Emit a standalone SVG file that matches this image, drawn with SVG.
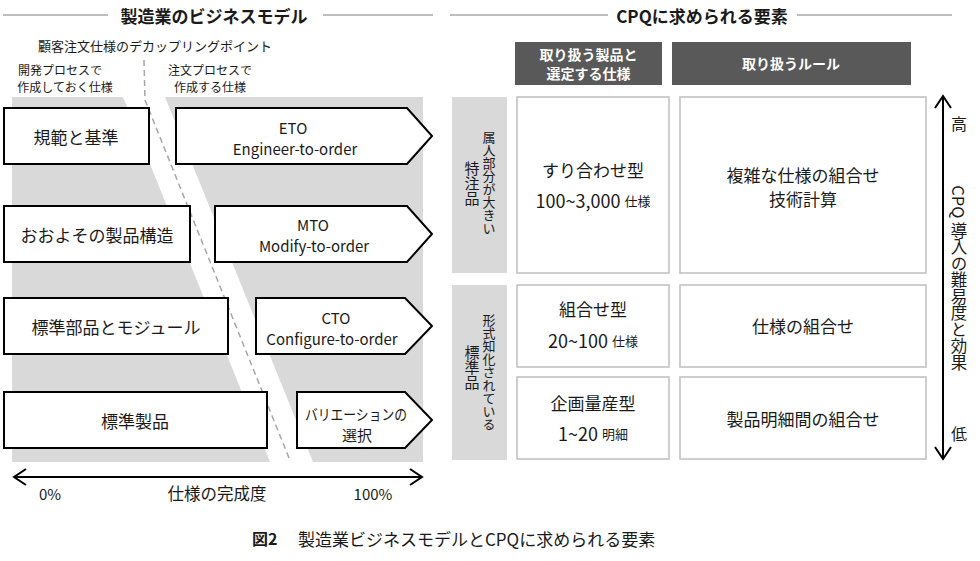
<svg xmlns="http://www.w3.org/2000/svg" width="980" height="561" viewBox="0 0 980 561">
<style>
text{font-family:"Noto Sans CJK JP","Noto Sans",sans-serif;fill:#1a1a1a;dominant-baseline:central;text-anchor:middle}
.h{font-size:17px;font-weight:bold}
.hl{stroke:#7f7f7f;stroke-width:1.2}
.box{fill:#fff;stroke:#000;stroke-width:2}
.band{fill:#d9d9d9}
.cell{fill:#fff;stroke:#bfbfbf;stroke-width:1.5}
.dark{fill:#595959}
.wt{fill:#fff;font-weight:bold;font-size:14px}
.lab{fill:#d9d9d9}
.t17{font-size:17px}
.t15{font-size:15px}
.t13{font-size:13px}
.t12{font-size:12px}
.v{writing-mode:vertical-rl}
.ax{stroke:#000;stroke-width:2;fill:none}
</style>

<!-- headers -->
<g id="header-left">
<line class="hl" x1="3" y1="15" x2="108" y2="15"/>
<line class="hl" x1="323" y1="15" x2="433" y2="15"/>
<text class="h" x="214" y="15">製造業のビジネスモデル</text>
</g>
<g id="header-right">
<line class="hl" x1="450" y1="15" x2="608" y2="15"/>
<line class="hl" x1="797" y1="15" x2="952" y2="15"/>
<text class="h" x="702" y="15">CPQに求められる要素</text>
</g>

<!-- left panel -->
<g id="band">
<polygon class="band" points="12,97 123,97 270,462 12,462"/>
<polygon class="band" points="165,97 423,97 423,462 313,462"/>
</g>

<g id="labels-top">
<text x="155" y="45" font-size="13">顧客注文仕様のデカップリングポイント</text>
<text class="t12" x="60" y="69">開発プロセスで</text>
<text class="t12" x="65" y="86">作成しておく仕様</text>
<text class="t12" x="210" y="69">注文プロセスで</text>
<text class="t12" x="210" y="86">作成する仕様</text>
</g>

<g id="connectors">
<path d="M144,60 L145,100 L289,458" fill="none" stroke="#a6a6a6" stroke-width="1.5" stroke-dasharray="6,4"/>
<line class="ax" x1="14" y1="477" x2="422" y2="477"/>
<polyline class="ax" points="26,469 14,477 26,485"/>
<polyline class="ax" points="410,469 422,477 410,485"/>
<line class="ax" x1="943" y1="96" x2="943" y2="459"/>
<polyline class="ax" points="935,108 943,96 951,108"/>
<polyline class="ax" points="935,447 943,459 951,447"/>
</g>

<g id="node-kihan">
<rect class="box" x="4" y="108" width="145" height="56"/>
<text class="t17" x="76" y="136">規範と基準</text>
</g>
<g id="node-eto">
<polygon class="box" points="176,108 407,108 432,136 407,164 176,164"/>
<text class="t15" x="293" y="127">ETO</text>
<text class="t15" x="295" y="148">Engineer-to-order</text>
</g>
<g id="node-kouzou">
<rect class="box" x="4" y="206" width="186" height="56"/>
<text class="t17" x="97" y="234">おおよその製品構造</text>
</g>
<g id="node-mto">
<polygon class="box" points="215,206 407,206 432,234 407,262 215,262"/>
<text class="t15" x="313" y="224">MTO</text>
<text class="t15" x="314" y="245">Modify-to-order</text>
</g>
<g id="node-module">
<rect class="box" x="4" y="298" width="224" height="56"/>
<text class="t17" x="116" y="326">標準部品とモジュール</text>
</g>
<g id="node-cto">
<polygon class="box" points="256,298 405,298 432,326 405,354 256,354"/>
<text class="t15" x="336" y="317">CTO</text>
<text class="t15" x="332" y="338">Configure-to-order</text>
</g>
<g id="node-hyoujun">
<rect class="box" x="4" y="392" width="263" height="56"/>
<text class="t17" x="135" y="420">標準製品</text>
</g>
<g id="node-variation">
<polygon class="box" points="297,392 405,392 432,420 405,448 297,448"/>
<text class="t15" x="356" y="413" textLength="102" lengthAdjust="spacingAndGlyphs">バリエーションの</text>
<text class="t15" x="357" y="434">選択</text>
</g>

<g id="axis-x-labels">
<text class="t15" x="50" y="493">0%</text>
<text font-size="16.5" x="217" y="493">仕様の完成度</text>
<text class="t15" x="373" y="493">100%</text>
</g>

<!-- right panel -->
<g id="col-head-1">
<rect class="dark" x="515" y="42" width="147" height="43"/>
<text class="wt" x="588.5" y="54">取り扱う製品と</text>
<text class="wt" x="588.5" y="73">選定する仕様</text>
</g>
<g id="col-head-2">
<rect class="dark" x="672" y="42" width="239" height="43"/>
<text class="wt" x="791" y="63">取り扱うルール</text>
</g>

<g id="label-tokuchu">
<rect class="lab" x="452" y="97" width="55" height="176"/>
<text class="v" font-size="15" x="472" y="183">特注品</text>
<text class="v t13" x="489" y="183">属人部分が大きい</text>
</g>
<g id="label-hyoujun">
<rect class="lab" x="452" y="285" width="55" height="175"/>
<text class="v" font-size="15" x="472" y="367">標準品</text>
<text class="v t13" x="489" y="372">形式知化されている</text>
</g>

<g id="cell-suriawase">
<rect class="cell" x="517" y="97" width="152" height="176"/>
<text class="t17" x="593" y="169">すり合わせ型</text>
<text x="593" y="200"><tspan font-size="18">100~3,000 </tspan><tspan font-size="13">仕様</tspan></text>
</g>
<g id="cell-kumiawase">
<rect class="cell" x="517" y="285" width="152" height="82"/>
<text class="t17" x="593" y="308">組合せ型</text>
<text x="593" y="340"><tspan font-size="18">20~100 </tspan><tspan font-size="13">仕様</tspan></text>
</g>
<g id="cell-kikaku">
<rect class="cell" x="517" y="377" width="152" height="82"/>
<text class="t17" x="593" y="402">企画量産型</text>
<text x="593" y="433"><tspan font-size="18">1~20 </tspan><tspan font-size="13">明細</tspan></text>
</g>
<g id="cell-rule-1">
<rect class="cell" x="680" y="97" width="246" height="176"/>
<text class="t17" x="803" y="174">複雑な仕様の組合せ</text>
<text class="t17" x="803" y="198">技術計算</text>
</g>
<g id="cell-rule-2">
<rect class="cell" x="680" y="285" width="246" height="82"/>
<text class="t17" x="803" y="325">仕様の組合せ</text>
</g>
<g id="cell-rule-3">
<rect class="cell" x="680" y="377" width="246" height="82"/>
<text class="t17" x="803" y="418">製品明細間の組合せ</text>
</g>

<g id="axis-y-labels">
<text font-size="16" x="959" y="123">高</text>
<text class="v" font-size="16.5" x="959" y="278">CPQ 導入の難易度と効果</text>
<text font-size="16" x="959" y="433">低</text>
</g>

<g id="caption">
<text x="252" y="538" font-size="16" font-weight="bold" style="text-anchor:start">図2</text>
<text x="298" y="538" font-size="17" style="text-anchor:start">製造業ビジネスモデルとCPQに求められる要素</text>
</g>
</svg>
